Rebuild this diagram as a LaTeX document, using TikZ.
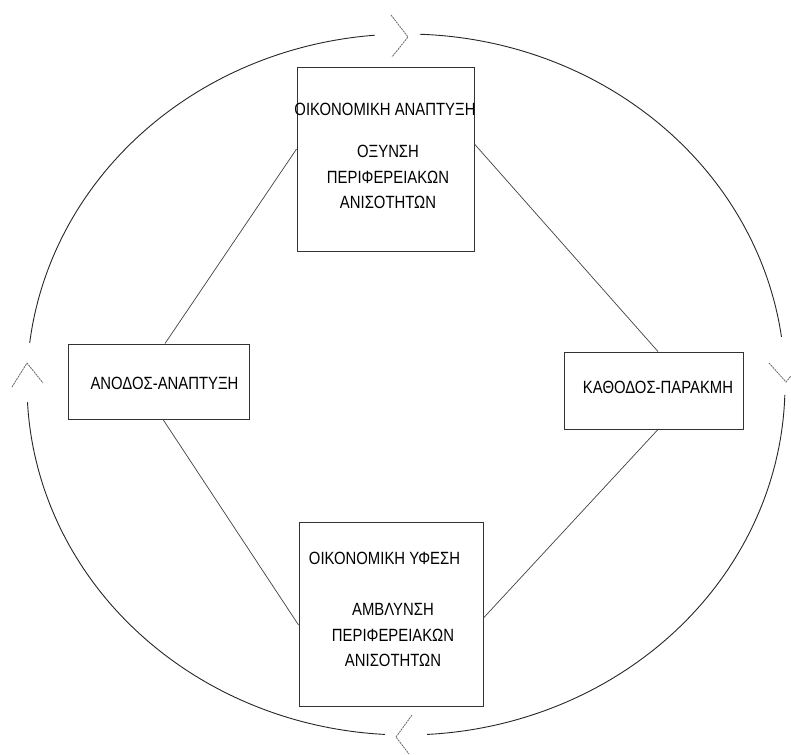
\documentclass[tikz,border=0pt]{standalone}
\usepackage{fontspec}
\setmainfont{Liberation Sans}[FakeStretch=0.84]
\begin{document}
\begin{tikzpicture}[x=1pt,y=-1pt,
  box/.style={draw=black!80,line width=0.9pt,minimum width=#1,inner sep=0pt},
  lbl/.style={font=\fontsize{17.7}{25.8}\selectfont,text=black,inner sep=0pt,align=center},
  conn/.style={draw=black!75,line width=0.7pt},
  ring/.style={draw=black!85,line width=0.9pt},
  chev/.style={draw=black!60,line width=0.8pt,dash pattern=on 2pt off 0.8pt}]
\useasboundingbox (0,0) rectangle (791,754);
% boxes
\node[box=177pt,minimum height=184pt] (topbox) at (385.5,159) {};
\node[box=181pt,minimum height=75pt] (leftbox) at (158.5,381.5) {};
\node[box=179pt,minimum height=77pt] (rightbox) at (653.5,390.5) {};
\node[box=184pt,minimum height=184pt] (botbox) at (391,614) {};
% texts
\node[lbl,anchor=base] (t1) at (385,115.5) {ΟΙΚΟΝΟΜΙΚΗ ΑΝΑΠΤΥΞΗ};
\node[lbl] (t2) at (388,177) {ΟΞΥΝΣΗ\\ΠΕΡΙΦΕΡΕΙΑΚΩΝ\\ΑΝΙΣΟΤΗΤΩΝ};
\node[lbl,anchor=base] (t3) at (164.5,389.5) {ΑΝΟΔΟΣ-ΑΝΑΠΤΥΞΗ};
\node[lbl,anchor=base] (t4) at (658,393.5) {ΚΑΘΟΔΟΣ-ΠΑΡΑΚΜΗ};
\node[lbl,anchor=base] (t5) at (384.5,564.5) {ΟΙΚΟΝΟΜΙΚΗ ΥΦΕΣΗ};
\node[lbl] (t6) at (393,635) {ΑΜΒΛΥΝΣΗ\\ΠΕΡΙΦΕΡΕΙΑΚΩΝ\\ΑΝΙΣΟΤΗΤΩΝ};
% connectors
\draw[conn] ([yshift=10pt]topbox.west) -- ([xshift=6.5pt]leftbox.north);
\draw[conn] ([yshift=15pt]topbox.east) -- ([xshift=4.5pt]rightbox.north);
\draw[conn] ([xshift=4.5pt]leftbox.south) -- ([yshift=-11pt]botbox.west);
\draw[conn] ([xshift=4.5pt]rightbox.south) -- ([yshift=-4pt]botbox.east);
% ring (ellipse with gaps)
\draw[ring] plot[domain=272.1:352.2,samples=80] ({406+379*cos(\x)},{384.5+350.5*sin(\x)});
\draw[ring] plot[domain=1.7:86.8,samples=80] ({406+379*cos(\x)},{384.5+350.5*sin(\x)});
\draw[ring] plot[domain=93.2:177.1,samples=80] ({406+379*cos(\x)},{384.5+350.5*sin(\x)});
\draw[ring] plot[domain=186.8:265.3,samples=80] ({406+379*cos(\x)},{384.5+350.5*sin(\x)});
% chevrons
\coordinate (ct) at (408,37);
\coordinate (cr) at (786,382);
\coordinate (cb) at (396,737);
\coordinate (cl) at (27,363);
\draw[chev] (391,15) -- (ct) -- (392,57);
\draw[chev] (769,363) -- (cr) -- (791,376);
\draw[chev] (412,715) -- (cb) -- (409,754);
\draw[chev] (12,387) -- (cl) -- (43,383);
\end{tikzpicture}
\end{document}
